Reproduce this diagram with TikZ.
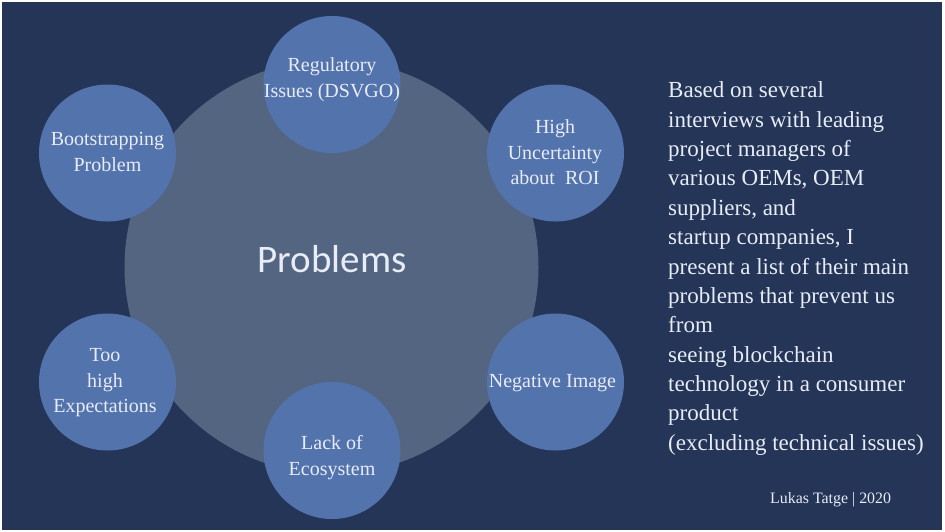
\documentclass[tikz,border=0pt]{standalone}
\usepackage{fontspec}
\setmainfont{Liberation Serif}
\newfontfamily\probfont{Carlito}
\definecolor{bgnavy}{RGB}{36,53,87}
\definecolor{bigcirc}{RGB}{83,101,128}
\definecolor{smallcirc}{RGB}{83,115,173}
\definecolor{txtcol}{RGB}{232,236,246}
\tikzset{
  pbubble/.style={circle,fill=smallcirc,draw=none,minimum size=137pt,inner sep=0pt},
  ptext/.style={anchor=north,align=center,inner sep=0pt,text=txtcol,font=\fontsize{20}{25.5}\selectfont},
}
\newcommand{\fl}{\rule{0pt}{15pt}}
\begin{document}
\begin{tikzpicture}[x=1pt,y=-1pt]
\useasboundingbox (0,0) rectangle (945,531);
\fill[white] (0,0) rectangle (945,531);
\fill[bgnavy] (2,1.5) rectangle (941.5,530);
% big circle
\node[circle,fill=bigcirc,minimum size=414pt,inner sep=0pt] (big) at (331.5,267) {};
% small circles
\node[pbubble] (reg) at (332,84.5) {};
\node[pbubble] (boot) at (107.5,153) {};
\node[pbubble] (high) at (555.5,153) {};
\node[pbubble] (too) at (107.5,382) {};
\node[pbubble] (lack) at (332,450.5) {};
\node[pbubble] (neg) at (555.5,382) {};
% texts
\node[ptext] (regt) at (332,56.7) {\fl Regulatory\\Issues (DSVGO)};
\node[ptext] (boott) at (107.5,130.7) {\fl Bootstrapping\\Problem};
\node[ptext] (hight) at (555,118.3) {\fl High\\Uncertainty\\about\ \ ROI};
\node[ptext] (toot) at (105,346.7) {\fl Too\\high\\Expectations};
\node[ptext] (lackt) at (332,434.3) {\fl Lack of\\Ecosystem};
\node[ptext] (negt) at (552.5,372.3) {\fl Negative Image};
\node[anchor=base,inner sep=0pt,text=txtcol,font=\probfont\fontsize{39}{45}\selectfont] (prob) at (332,272) {Problems};
\node[anchor=north west,align=left,inner sep=0pt,text=txtcol,font=\fontsize{23}{29.35}\selectfont] (desc) at (668,80.7) {\rule{0pt}{17pt}Based on several\\interviews with leading\\project managers of\\various OEMs, OEM\\suppliers, and\\startup companies, I\\present a list of their main\\problems that prevent us\\from\\seeing blockchain\\technology in a consumer\\product\\(excluding technical issues)};
\node[anchor=base west,inner sep=0pt,text=txtcol,font=\fontsize{15.9}{18}\selectfont] (auth) at (770,503) {Lukas Tatge | 2020};
\end{tikzpicture}
\end{document}
